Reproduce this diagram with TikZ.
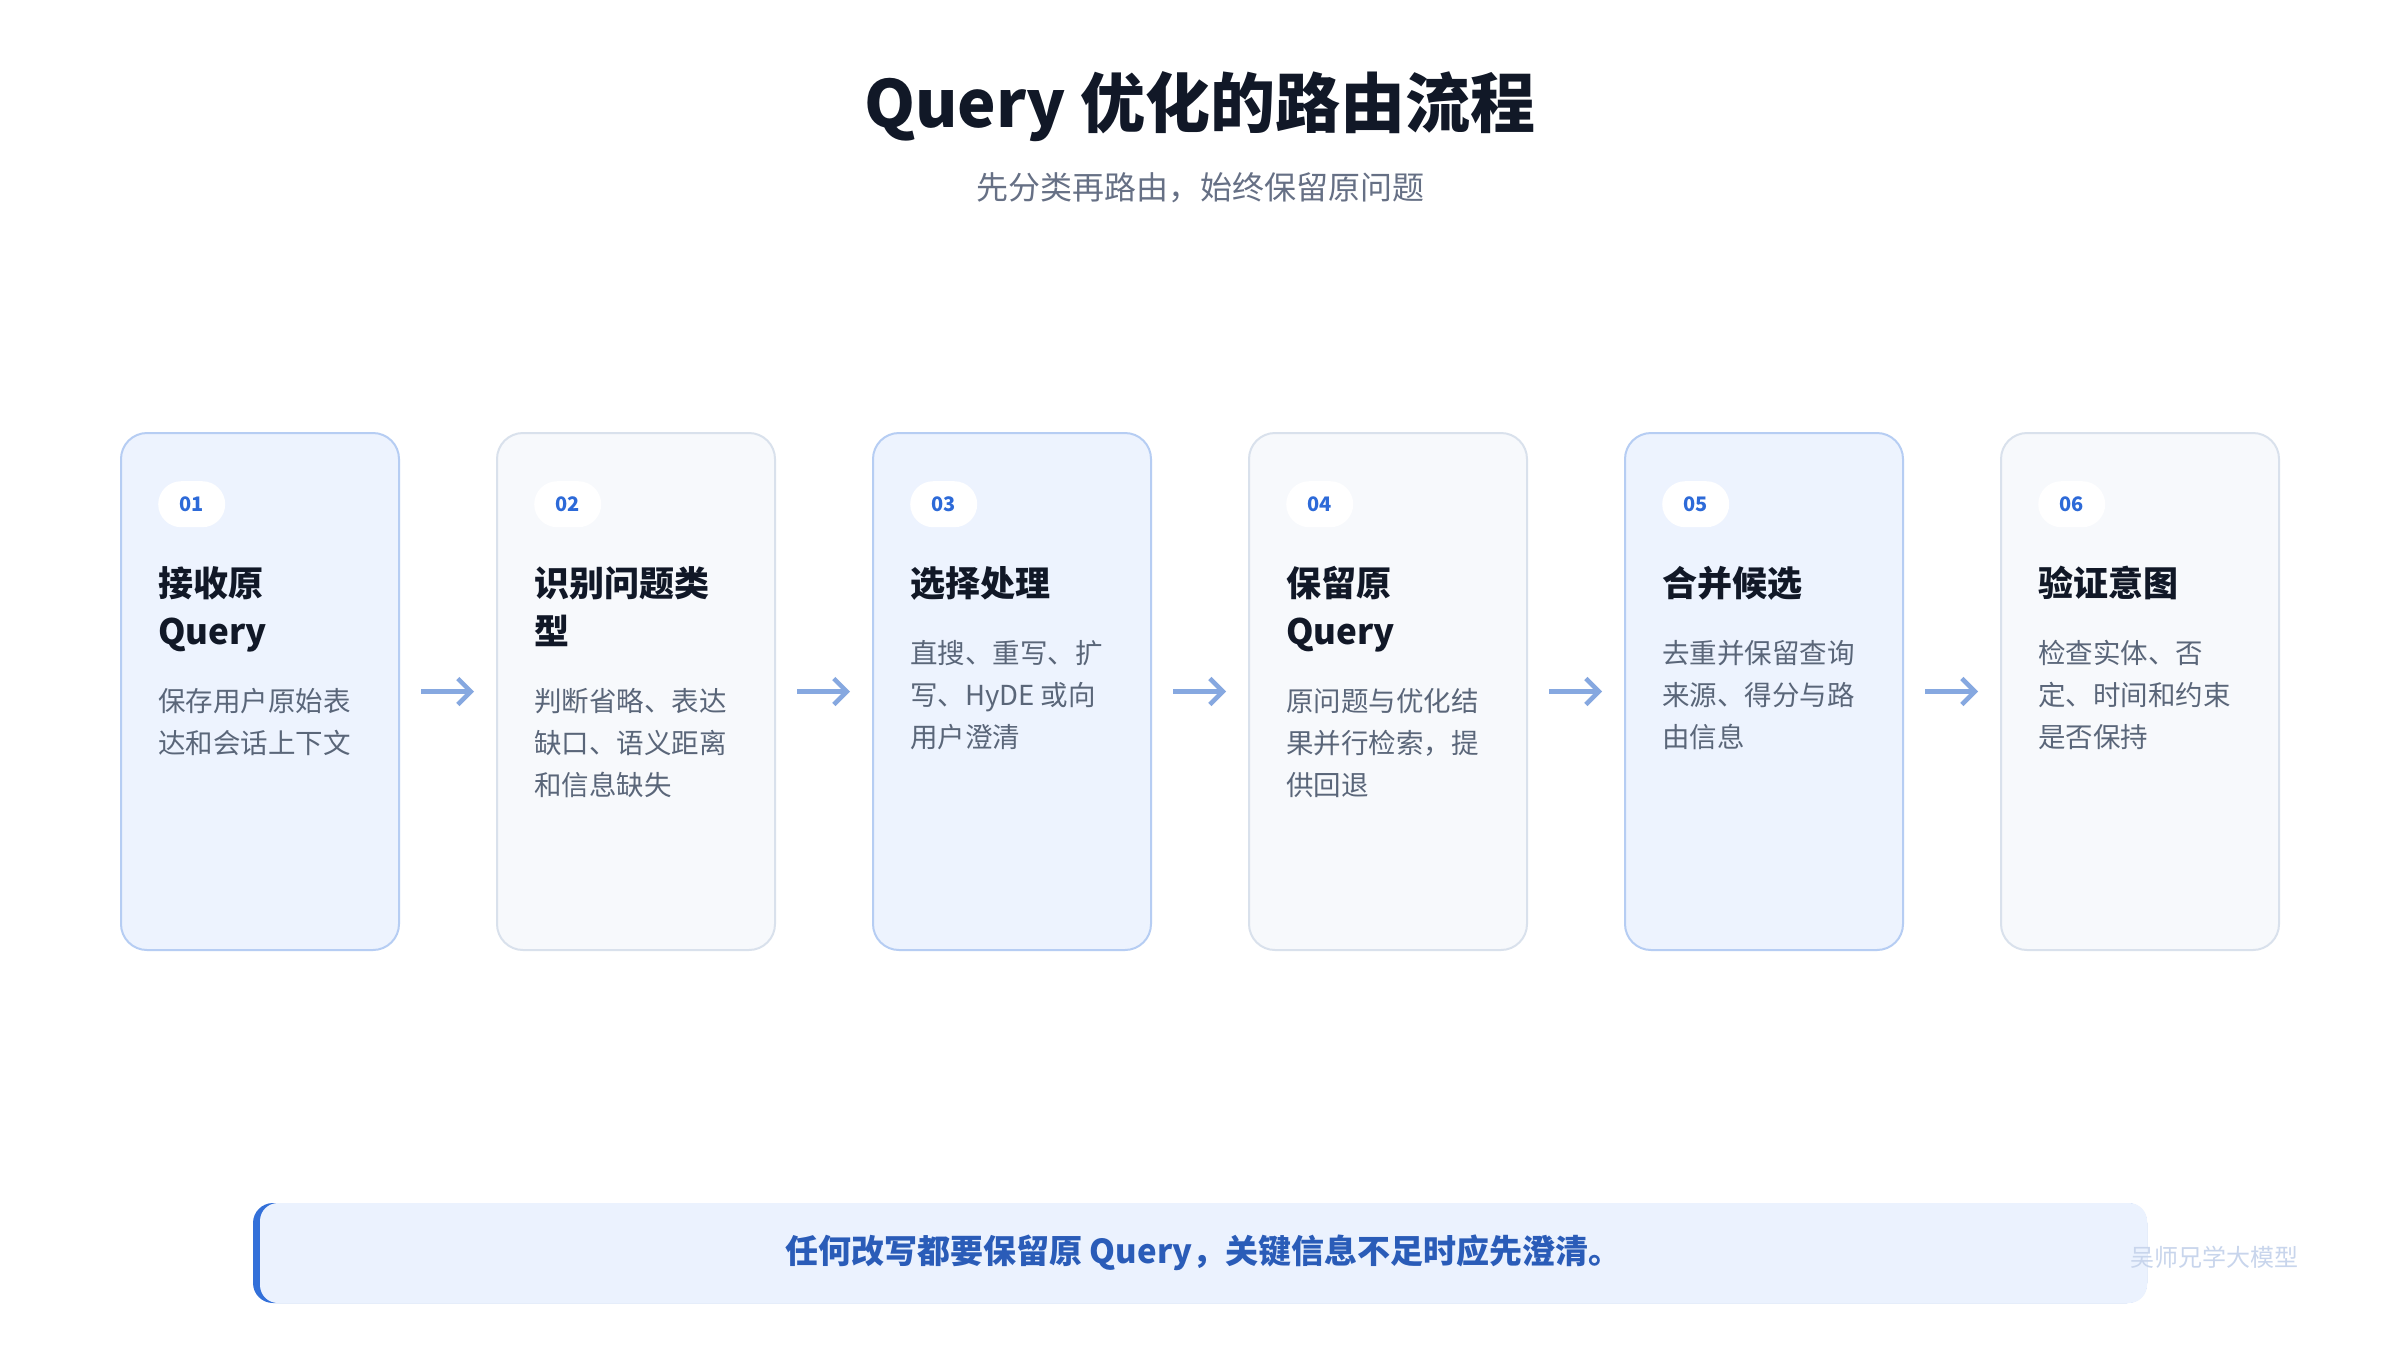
\documentclass[tikz,border=0pt]{standalone}
\usepackage{fontspec}
\setmainfont{Noto Sans CJK SC}
\usepackage{xcolor}
\usepackage{tikz}
\usetikzlibrary{positioning, arrows.meta}

\definecolor{ink}{HTML}{111827}
\definecolor{subgray}{HTML}{667085}
\definecolor{descgray}{HTML}{5A6679}
\definecolor{blueFill}{HTML}{EDF3FE}
\definecolor{blueLine}{HTML}{B6CDF3}
\definecolor{grayFill}{HTML}{F7F9FC}
\definecolor{grayLine}{HTML}{D9E1EC}
\definecolor{numBlue}{HTML}{2D6AD8}
\definecolor{arrBlue}{HTML}{86A8E0}
\definecolor{accent}{HTML}{3370D9}
\definecolor{noteFill}{HTML}{EBF2FE}
\definecolor{noteText}{HTML}{2A5CB8}
\definecolor{mark}{HTML}{C8D5EC}

\begin{document}
\begin{tikzpicture}[
    x=1pt, y=-1pt,
    node distance = 98pt,
    card/.style  = {rectangle, rounded corners=26pt, line width=2pt, outer sep=0pt,
                    minimum width=278pt, minimum height=517pt, inner sep=0pt},
    cardA/.style = {card, draw=blueLine, fill=blueFill},
    cardB/.style = {card, draw=grayLine, fill=grayFill},
    badge/.style = {rectangle, rounded corners=23pt, fill=white,
                    minimum width=67pt, minimum height=46pt, inner sep=0pt,
                    text=numBlue, font=\fontsize{20}{24}\selectfont\bfseries},
    ttl/.style   = {inner sep=0pt, align=left, text=ink,
                    font=\fontsize{35}{48}\selectfont\bfseries},
    desc/.style  = {inner sep=0pt, align=left, text=descgray,
                    font=\fontsize{27.5}{42}\selectfont},
    note/.style  = {rectangle, rounded corners=18pt, fill=noteFill,
                    minimum width=1887pt, minimum height=100pt,
                    text=noteText, font=\fontsize{33}{40}\selectfont\bfseries},
    arr/.style   = {-{Straight Barb[length=13pt, width=26pt]}, line width=4.5pt,
                    arrBlue, shorten <=22pt, shorten >=23pt}
]
\fill[white] (0,0) rectangle (2400,1350);

% Heading
\node[text=ink, font=\fontsize{65}{80}\selectfont\bfseries] (title) at (1200,107)
    {Query 优化的路由流程};
\node[text=subgray, font=\fontsize{32}{40}\selectfont] (subtitle) at (1200,188)
    {先分类再路由，始终保留原问题};

% Cards
\node[cardA, anchor=north west] (c1) at (121,433) {};
\node[cardB, right=of c1] (c2) {};
\node[cardA, right=of c2] (c3) {};
\node[cardB, right=of c3] (c4) {};
\node[cardA, right=of c4] (c5) {};
\node[cardB, right=of c5] (c6) {};

% Step numbers
\node[badge, below right=48pt and 37pt of c1.north west] (b1) {01};
\node[badge, below right=48pt and 37pt of c2.north west] (b2) {02};
\node[badge, below right=48pt and 37pt of c3.north west] (b3) {03};
\node[badge, below right=48pt and 37pt of c4.north west] (b4) {04};
\node[badge, below right=48pt and 37pt of c5.north west] (b5) {05};
\node[badge, below right=48pt and 37pt of c6.north west] (b6) {06};

% Step titles
\node[ttl, below right=35pt and 0pt of b1.south west] (t1) {接收原\strut\\Query\strut};
\node[ttl, below right=35pt and 0pt of b2.south west] (t2) {识别问题类\strut\\型\strut};
\node[ttl, below right=35pt and 0pt of b3.south west] (t3) {选择处理\strut};
\node[ttl, below right=35pt and 0pt of b4.south west] (t4) {保留原\strut\\Query\strut};
\node[ttl, below right=35pt and 0pt of b5.south west] (t5) {合并候选\strut};
\node[ttl, below right=35pt and 0pt of b6.south west] (t6) {验证意图\strut};

% Step descriptions
\node[desc, below right=23pt and 0pt of t1.south west] (d1)
    {保存用户原始表\strut\\达和会话上下文\strut};
\node[desc, below right=23pt and 0pt of t2.south west] (d2)
    {判断省略、表达\strut\\缺口、语义距离\strut\\和信息缺失\strut};
\node[desc, below right=23pt and 0pt of t3.south west] (d3)
    {直搜、重写、扩\strut\\写、HyDE 或向\strut\\用户澄清\strut};
\node[desc, below right=23pt and 0pt of t4.south west] (d4)
    {原问题与优化结\strut\\果并行检索，提\strut\\供回退\strut};
\node[desc, below right=23pt and 0pt of t5.south west] (d5)
    {去重并保留查询\strut\\来源、得分与路\strut\\由信息\strut};
\node[desc, below right=23pt and 0pt of t6.south west] (d6)
    {检查实体、否\strut\\定、时间和约束\strut\\是否保持\strut};

% Flow arrows
\draw[arr] (c1) -- (c2);
\draw[arr] (c2) -- (c3);
\draw[arr] (c3) -- (c4);
\draw[arr] (c4) -- (c5);
\draw[arr] (c5) -- (c6);

% Bottom note
\fill[accent, rounded corners=20pt] (253,1203) rectangle (2147,1303);
\node[note] (rule) at (1203.5,1253)
    {任何改写都要保留原 Query，关键信息不足时应先澄清。};
\node[text=mark, font=\fontsize{24}{28}\selectfont] (wm) at (2214,1257) {吴师兄学大模型};
\end{tikzpicture}
\end{document}
